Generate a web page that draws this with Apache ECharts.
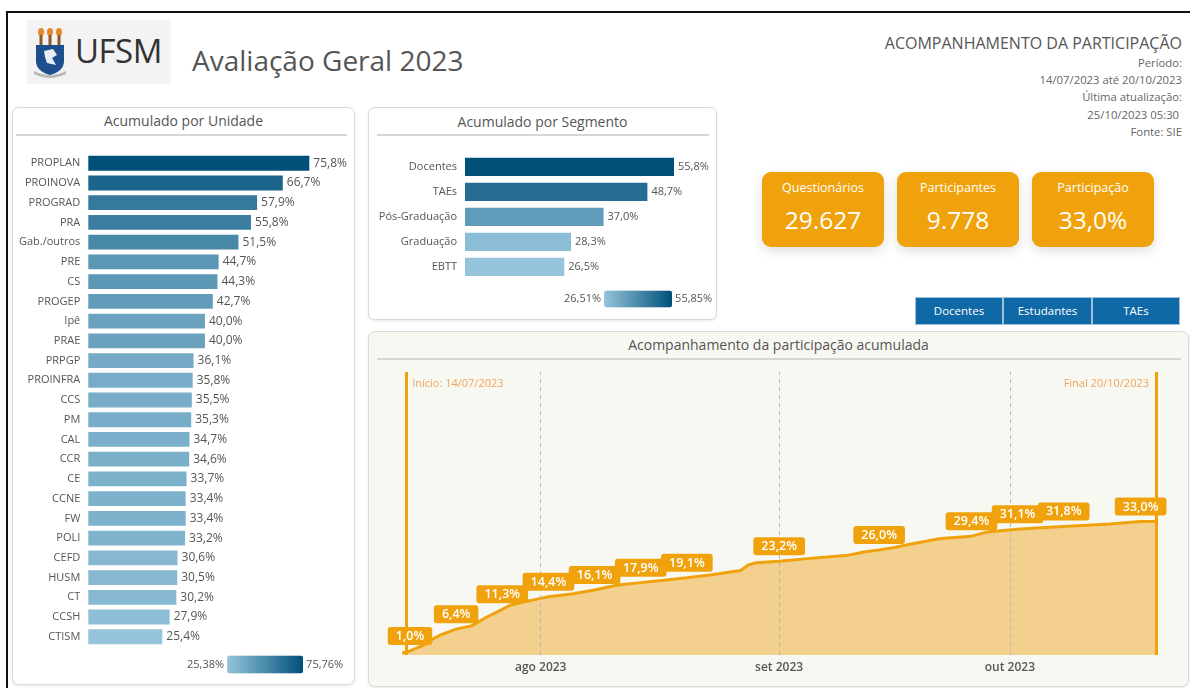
<!DOCTYPE html>
<html lang="pt-BR">
<head>
<meta charset="utf-8">
<title>Avaliação Geral 2023</title>
<script src="https://cdn.jsdelivr.net/npm/echarts@6.0.0/dist/echarts.min.js"></script>
<style>
  body {
    margin: 0;
    width: 1190px;
    height: 688px;
    overflow: hidden;
    position: relative;
    background: #fff;
    font-family: "Segoe UI", "Open Sans", sans-serif;
    color: #555;
  }
  .abs { position: absolute; }
  .frame { left: 6px; top: 11px; width: 1300px; height: 800px; border: 2px solid #111; }
  .logo { left: 27px; top: 20px; width: 144px; height: 64px; background: #f3f3f3; }
  .logo svg { position: absolute; left: 6px; top: 7px; }
  .logo span { position: absolute; left: 48px; top: 8px; font-size: 33px; color: #333; letter-spacing: -0.5px; }
  .titulo { left: 192px; top: 41px; font-size: 28px; color: #555; white-space: nowrap; }
  .info { right: 8px; top: 32px; text-align: right; font-size: 11.3px; line-height: 17.2px; color: #666; }
  .info .grande { font-size: 16px; line-height: 22px; color: #555; }
  .painel { background: #fff; border: 1px solid #dadada; border-radius: 7px; box-shadow: 0 1px 3px rgba(0,0,0,0.10); }
  .painel h2 { margin: 0; font-weight: normal; font-size: 14px; color: #555; text-align: center; line-height: 20px; padding-top: 4px; }
  .painel .linha { position: absolute; height: 2px; background: #d6d6d6; }
  .card { width: 122px; height: 75px; top: 172px; background: #f0a20c; border-radius: 9px; color: #fff; text-align: center;
          box-shadow: 0 4px 12px rgba(0,0,0,0.13); }
  .card .t { position: absolute; left: 0; right: 0; top: 6px; font-size: 12.5px; line-height: 20px; }
  .card .v { position: absolute; left: 0; right: 0; top: 32px; font-size: 24.5px; line-height: 32px; }
  .botao { top: 298px; height: 26px; line-height: 26px; background: #0f69a6; color: #fff; font-size: 11.5px; text-align: center;
           box-shadow: 0 0 0 1px #9fc1da; }
  #grafico { position: absolute; left: 0; top: 0; width: 1190px; height: 688px; }
</style>
</head>
<body>
<div class="abs frame"></div>

<div class="abs logo">
  <svg width="34" height="52" viewBox="0 0 34 52">
    <ellipse cx="8" cy="5" rx="3" ry="4" fill="#e8872a"/>
    <ellipse cx="17" cy="5" rx="3" ry="4" fill="#e8872a"/>
    <ellipse cx="26" cy="5" rx="3" ry="4" fill="#e8872a"/>
    <rect x="6.5" y="8" width="3" height="10" fill="#8a5a2b"/>
    <rect x="15.5" y="8" width="3" height="10" fill="#8a5a2b"/>
    <rect x="24.5" y="8" width="3" height="10" fill="#8a5a2b"/>
    <path d="M3 18 H31 V34 Q31 44 17 48 Q3 44 3 34 Z" fill="#1d4f8f"/>
    <path d="M11 24 L20 22 L24 28 L19 31 L23 38 L14 36 L12 30 Z" fill="#e9eef5"/>
    <path d="M1 44 Q17 52 33 44 L33 47 Q17 55 1 47 Z" fill="#b9b9b9"/>
  </svg>
  <span>UFSM</span>
</div>
<div class="abs titulo">Avaliação Geral 2023</div>

<div class="abs info">
  <div class="grande">ACOMPANHAMENTO DA PARTICIPAÇÃO</div>
  <div>Período:</div>
  <div>14/07/2023 até 20/10/2023</div>
  <div>Última atualização:</div>
  <div>25/10/2023 05:30&nbsp;</div>
  <div>Fonte: SIE</div>
</div>

<div class="abs painel" style="left:12px;top:107px;width:341px;height:576px;">
  <h2 style="padding-top:3px">Acumulado por Unidade</h2>
  <div class="linha" style="left:3px;top:26px;width:331px;"></div>
</div>
<div class="abs painel" style="left:368px;top:107px;width:347px;height:211px;">
  <h2 style="padding-top:4px">Acumulado por Segmento</h2>
  <div class="linha" style="left:8px;top:26px;width:332px;"></div>
</div>
<div class="abs painel" style="left:368px;top:331px;width:819px;height:354px;background:#f8f8f3;">
  <h2 style="padding-top:3px">Acompanhamento da participação acumulada</h2>
  <div class="linha" style="left:8px;top:26px;width:804px;"></div>
</div>

<div class="abs card" style="left:762px;"><div class="t">Questionários</div><div class="v">29.627</div></div>
<div class="abs card" style="left:897px;"><div class="t">Participantes</div><div class="v">9.778</div></div>
<div class="abs card" style="left:1032px;"><div class="t">Participação</div><div class="v">33,0%</div></div>

<div class="abs botao" style="left:916px;width:86px;">Docentes</div>
<div class="abs botao" style="left:1004px;width:87px;">Estudantes</div>
<div class="abs botao" style="left:1093px;width:86px;">TAEs</div>

<div id="grafico"></div>

<script>
// participação por unidade (%)
const unidades = ["PROPLAN", "PROINOVA", "PROGRAD", "PRA", "Gab./outros", "PRE", "CS", "PROGEP", "Ipê", "PRAE",
  "PRPGP", "PROINFRA", "CCS", "PM", "CAL", "CCR", "CE", "CCNE", "FW", "POLI", "CEFD", "HUSM", "CT", "CCSH", "CTISM"];
const unidadeValores = [75.8, 66.7, 57.9, 55.8, 51.5, 44.7, 44.3, 42.7, 40.0, 40.0,
  36.1, 35.8, 35.5, 35.3, 34.7, 34.6, 33.7, 33.4, 33.4, 33.2, 30.6, 30.5, 30.2, 27.9, 25.4];
const unidadeFaixa = [25.38, 75.76];

// participação por segmento (%)
const segmentos = ["Docentes", "TAEs", "Pós-Graduação", "Graduação", "EBTT"];
const segmentoValores = [55.8, 48.7, 37.0, 28.3, 26.5];
const segmentoFaixa = [26.51, 55.85];

// participação acumulada (%)
const datas = ["2023-07-14", "2023-07-15", "2023-07-17", "2023-07-18", "2023-07-19", "2023-07-21", "2023-07-23",
  "2023-07-25", "2023-07-27", "2023-07-28", "2023-07-30", "2023-08-01", "2023-08-02", "2023-08-05", "2023-08-08",
  "2023-08-11", "2023-08-14", "2023-08-17", "2023-08-20", "2023-08-23", "2023-08-27", "2023-08-28", "2023-08-29",
  "2023-09-01", "2023-09-05", "2023-09-10", "2023-09-12", "2023-09-14", "2023-09-16", "2023-09-18", "2023-09-22",
  "2023-09-26", "2023-09-28", "2023-10-02", "2023-10-05", "2023-10-08", "2023-10-14", "2023-10-18", "2023-10-20"];
const acumulado = [0.5, 1.0, 2.6, 4.0, 5.0, 6.4, 7.2,
  9.4, 11.3, 12.3, 13.2, 14.0, 14.4, 15.1, 16.1,
  17.3, 17.9, 18.5, 19.1, 19.8, 20.9, 22.3, 22.8,
  23.2, 23.9, 24.7, 25.5, 26.0, 26.6, 27.4, 28.8,
  29.4, 30.4, 31.1, 31.5, 31.8, 32.4, 33.0, 33.0];
const datasRotuladas = ["2023-07-15", "2023-07-21", "2023-07-27", "2023-08-02", "2023-08-08", "2023-08-14",
  "2023-08-20", "2023-09-01", "2023-09-14", "2023-09-26", "2023-10-02", "2023-10-08", "2023-10-18"];
const meses = ["2023-08-01", "2023-09-01", "2023-10-01"];
const mesesRotulos = ["ago 2023", "set 2023", "out 2023"];
const inicio = "2023-07-14";
const fim = "2023-10-20";

const fonte = "'Segoe UI', 'Open Sans', sans-serif";
const laranja = "#f0a20c";
const pct = v => v.toFixed(1).replace(".", ",") + "%";
const pct2 = v => v.toFixed(2).replace(".", ",") + "%";

let chart = echarts.init(document.getElementById("grafico"));

let pontos = datas.map((d, i) => [d, acumulado[i]]);
// só os pontos que levam rótulo
let rotulos = pontos.filter(p => datasRotuladas.includes(p[0]));

let linhasMes = meses.map((m, i) => ({
  xAxis: m,
  lineStyle: { color: "#b8b8b8", type: [4, 4], width: 1 },
  label: { show: true, position: "start", formatter: mesesRotulos[i], color: "#555", fontSize: 12, fontWeight: 600, distance: 7 }
}));

chart.setOption({
  animation: false,
  textStyle: { fontFamily: fonte },
  grid: [
    { left: 88.3, top: 153.4, width: 221, height: 493.2 },
    { left: 465, top: 154.3, width: 209, height: 125 },
    { left: 402.3, top: 372, width: 753.7, height: 283 }
  ],
  xAxis: [
    { gridIndex: 0, type: "value", min: 0, max: "dataMax", show: false },
    { gridIndex: 1, type: "value", min: 0, max: "dataMax", show: false },
    { gridIndex: 2, type: "time", min: inicio, max: fim, show: false }
  ],
  yAxis: [
    {
      gridIndex: 0, type: "category", data: unidades, inverse: true,
      axisLine: { show: false }, axisTick: { show: false },
      axisLabel: { color: "#555", fontSize: 11, margin: 8 }
    },
    {
      gridIndex: 1, type: "category", data: segmentos, inverse: true,
      axisLine: { show: false }, axisTick: { show: false },
      axisLabel: { color: "#555", fontSize: 11, margin: 8 }
    },
    { gridIndex: 2, type: "value", min: 0, max: 70, show: false }
  ],
  visualMap: [
    {
      type: "continuous", seriesIndex: 0, dimension: 0, min: unidadeFaixa[0], max: unidadeFaixa[1],
      orient: "horizontal", left: 172, top: 640.5, itemWidth: 18, itemHeight: 76, textGap: 3,
      text: [pct2(unidadeFaixa[1]), pct2(unidadeFaixa[0])],
      textStyle: { color: "#555", fontSize: 11 },
      inRange: { color: ["#95c4dc", "#00507a"] }
    },
    {
      type: "continuous", seriesIndex: 1, dimension: 0, min: segmentoFaixa[0], max: segmentoFaixa[1],
      orient: "horizontal", left: 549, top: 275.5, itemWidth: 17, itemHeight: 68, textGap: 3,
      text: [pct2(segmentoFaixa[1]), pct2(segmentoFaixa[0])],
      textStyle: { color: "#555", fontSize: 11 },
      inRange: { color: ["#95c4dc", "#00507a"] }
    }
  ],
  series: [
    {
      type: "bar", xAxisIndex: 0, yAxisIndex: 0, data: unidadeValores, barCategoryGap: "25%",
      label: { show: true, position: "right", distance: 4, color: "#555", fontSize: 12, formatter: p => pct(p.value) }
    },
    {
      type: "bar", xAxisIndex: 1, yAxisIndex: 1, data: segmentoValores, barCategoryGap: "27%",
      label: { show: true, position: "right", distance: 4, color: "#555", fontSize: 11, formatter: p => pct(p.value) }
    },
    {
      type: "line", xAxisIndex: 2, yAxisIndex: 2, data: pontos,
      showSymbol: false,
      lineStyle: { color: laranja, width: 3 },
      itemStyle: { color: laranja },
      areaStyle: { color: "#f3d08e", opacity: 1 },
      markLine: {
        silent: true, symbol: ["none", "none"],
        data: linhasMes.concat([
          { xAxis: "2023-07-14 12:00", lineStyle: { color: laranja, type: "solid", width: 3 }, label: { show: false } },
          { xAxis: fim, lineStyle: { color: laranja, type: "solid", width: 3 }, label: { show: false } }
        ])
      },
      markPoint: {
        silent: true, symbolSize: 0,
        data: [
          { coord: ["2023-07-14 12:00", 67], label: { show: true, position: "right", distance: 6, formatter: "Início: 14/07/2023", color: "#f2a35c", fontSize: 11 } },
          { coord: [fim, 67], label: { show: true, position: "left", distance: 7, formatter: "Final 20/10/2023", color: "#f2a35c", fontSize: 11 } }
        ]
      }
    },
    {
      type: "scatter", xAxisIndex: 2, yAxisIndex: 2, data: rotulos, z: 10,
      symbolSize: 0, silent: true,
      itemStyle: { color: laranja, opacity: 1 },
      label: {
        show: true, position: "top", distance: 6, opacity: 1,
        backgroundColor: laranja, color: "#fff", fontSize: 12.5, fontWeight: 600, padding: [3, 8, 2, 8], borderRadius: 3,
        formatter: p => pct(p.value[1])
      }
    }
  ]
});
</script>
</body>
</html>
